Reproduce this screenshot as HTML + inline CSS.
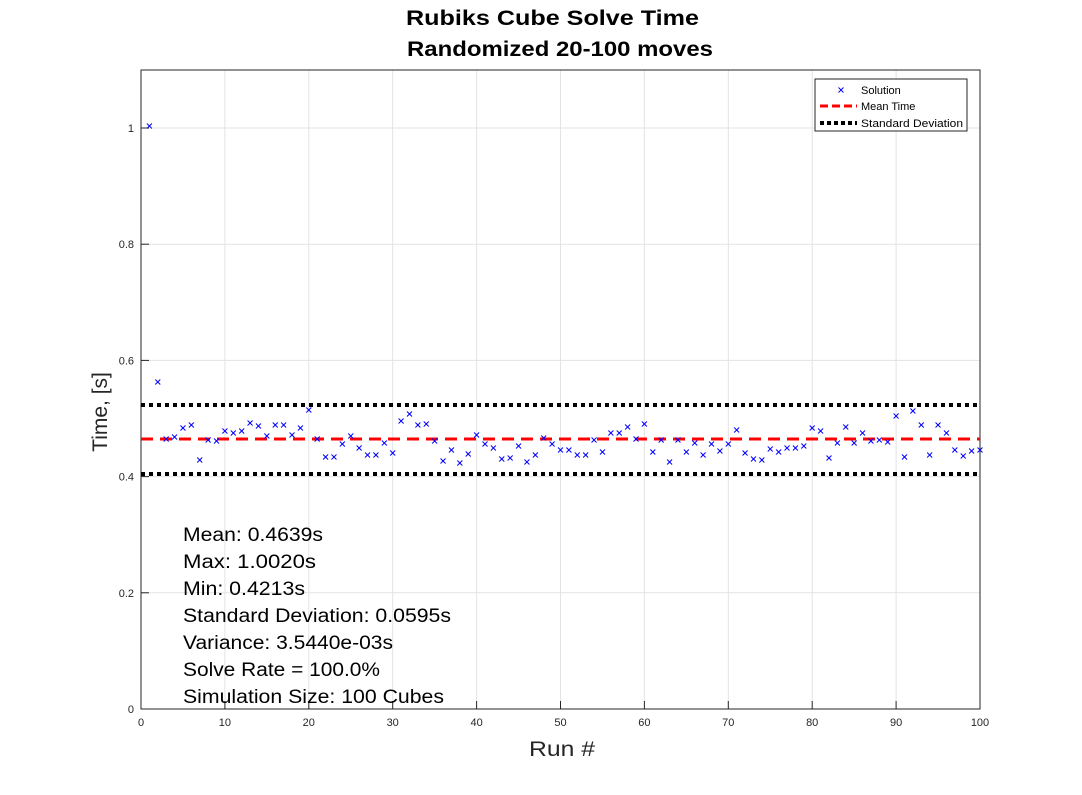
<!DOCTYPE html>
<html><head><meta charset="utf-8"><style>body{margin:0;background:#fff}svg{display:block}</style></head><body>
<svg id="s" width="1082" height="795" xmlns="http://www.w3.org/2000/svg" font-family="Liberation Sans, sans-serif">
<rect width="1082" height="795" fill="#fff"/>
<g id="grid" stroke="#e3e3e3" stroke-width="1"></g>
<rect x="141" y="70" width="839" height="639" fill="none" stroke="#262626" stroke-width="1"/>
<g id="ticks" font-size="11" fill="#262626"></g>
<line x1="141" y1="405" x2="980" y2="405" stroke="#000" stroke-width="4" stroke-dasharray="4,4"/>
<line x1="141" y1="474" x2="980" y2="474" stroke="#000" stroke-width="4" stroke-dasharray="4,4"/>
<line x1="141" y1="439" x2="980" y2="439" stroke="#f00" stroke-width="3" stroke-dasharray="12,7"/>
<g id="pts" stroke="#00f" stroke-width="1"></g>
<text x="406" y="25" font-size="21" font-weight="bold" textLength="293" lengthAdjust="spacingAndGlyphs">Rubiks Cube Solve Time</text>
<text x="407" y="56" font-size="21" font-weight="bold" textLength="306" lengthAdjust="spacingAndGlyphs">Randomized 20-100 moves</text>
<text x="529" y="756" font-size="21" fill="#262626" textLength="66" lengthAdjust="spacingAndGlyphs">Run #</text>
<text transform="translate(107,412) rotate(-90)" font-size="21" fill="#262626" text-anchor="middle">Time, [s]</text>
<g font-size="19" fill="#000">
<text x="183" y="541" textLength="140" lengthAdjust="spacingAndGlyphs">Mean: 0.4639s</text>
<text x="183" y="568" textLength="133" lengthAdjust="spacingAndGlyphs">Max: 1.0020s</text>
<text x="183" y="595" textLength="122" lengthAdjust="spacingAndGlyphs">Min: 0.4213s</text>
<text x="183" y="622" textLength="268" lengthAdjust="spacingAndGlyphs">Standard Deviation: 0.0595s</text>
<text x="183" y="649" textLength="210" lengthAdjust="spacingAndGlyphs">Variance: 3.5440e-03s</text>
<text x="183" y="676" textLength="197" lengthAdjust="spacingAndGlyphs">Solve Rate = 100.0%</text>
<text x="183" y="703" textLength="261" lengthAdjust="spacingAndGlyphs">Simulation Size: 100 Cubes</text>
</g>
<rect x="815" y="79" width="152" height="52" fill="#fff" stroke="#262626"/>
<g stroke="#00f"><line x1="838.5" y1="87.5" x2="843.5" y2="92.5"/><line x1="843.5" y1="87.5" x2="838.5" y2="92.5"/></g>
<line x1="820" y1="106" x2="857" y2="106" stroke="#f00" stroke-width="3" stroke-dasharray="8,4"/>
<line x1="820" y1="123" x2="857" y2="123" stroke="#000" stroke-width="4" stroke-dasharray="4,3"/>
<g font-size="11" fill="#000"><text x="861" y="94">Solution</text><text x="861" y="110">Mean Time</text><text x="861" y="127" textLength="102" lengthAdjust="spacingAndGlyphs">Standard Deviation</text></g>
</svg>
<script>
var ns="http://www.w3.org/2000/svg",g=document.getElementById('grid'),t=document.getElementById('ticks'),p=document.getElementById('pts');
function el(par,n,a,txt){var e=document.createElementNS(ns,n);for(var k in a)e.setAttribute(k,a[k]);if(txt!=null)e.textContent=txt;par.appendChild(e);}
for(var i=0;i<=10;i++){var x=141+i*83.9;if(i>0&&i<10)el(g,'line',{x1:x,y1:70,x2:x,y2:709});el(t,'text',{x:x,y:726,'text-anchor':'middle'},String(i*10));el(t,'line',{x1:x,y1:709,x2:x,y2:701,stroke:'#262626'});}
for(var j=0;j<=5;j++){var y=709-j*116.2;if(j>0)el(g,'line',{x1:141,y1:y,x2:980,y2:y});el(t,'text',{x:134,y:y+4,'text-anchor':'end'},j==0?'0':j==5?'1':(j*0.2).toFixed(1));el(t,'line',{x1:141,y1:y,x2:149,y2:y,stroke:'#262626'});}
var Y=[126,382,439,437,428,425,460,440,441,431,433,431,423,426,436,425,425,435,428,410,439,457,457,444,436,448,455,455,443,453,421,414,425,424,441,461,450,463,454,435,444,448,459,458,446,462,455,438,444,450,450,455,455,440,452,433,433,427,439,424,452,440,462,440,452,443,455,444,451,444,430,453,459,460,449,452,448,448,446,428,431,458,443,427,443,433,441,440,442,416,457,411,425,455,425,433,450,456,451,450];
Y.forEach(function(y,i){var x=141+(i+1)*8.39;el(p,'line',{x1:x-2.5,y1:y-2.5,x2:x+2.5,y2:y+2.5});el(p,'line',{x1:x+2.5,y1:y-2.5,x2:x-2.5,y2:y+2.5});});
</script>
</body></html>
